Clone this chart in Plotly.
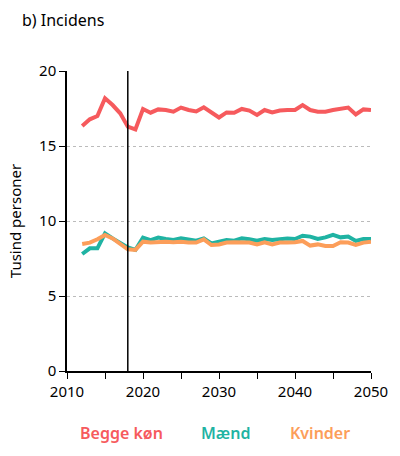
import plotly.graph_objects as go

years = list(range(2012, 2051))
begge = [16.33, 16.78, 17.0, 18.18, 17.73, 17.18, 16.29, 16.11, 17.47, 17.22,
         17.44, 17.4, 17.29, 17.56, 17.4, 17.3, 17.58, 17.2, 16.9, 17.24,
         17.22, 17.47, 17.36, 17.07, 17.4, 17.24, 17.36, 17.4, 17.4, 17.73,
         17.4, 17.29, 17.29, 17.4, 17.47, 17.56, 17.1, 17.44, 17.4]
maend = [7.8, 8.18, 8.18, 9.18, 8.84, 8.51, 8.24, 8.07, 8.89, 8.73,
         8.89, 8.8, 8.73, 8.84, 8.78, 8.69, 8.84, 8.51, 8.62, 8.73,
         8.69, 8.84, 8.78, 8.69, 8.8, 8.73, 8.78, 8.84, 8.8, 9.02,
         8.96, 8.8, 8.91, 9.07, 8.91, 8.96, 8.67, 8.8, 8.8]
kvinder = [8.47, 8.56, 8.78, 9.07, 8.84, 8.51, 8.11, 8.07, 8.62, 8.56,
           8.62, 8.62, 8.58, 8.62, 8.56, 8.56, 8.78, 8.4, 8.44, 8.56,
           8.58, 8.58, 8.56, 8.44, 8.58, 8.44, 8.56, 8.56, 8.58, 8.67,
           8.36, 8.44, 8.33, 8.33, 8.58, 8.56, 8.4, 8.56, 8.62]
series_names = ["Begge køn", "Mænd", "Kvinder"]
colors = ["#F65A5D", "#1FB3A3", "#FC9E5A"]
divider_year = 2018

FONT = "Noto Sans"
fig = go.Figure()

for name, vals, col in zip(series_names, [begge, maend, kvinder], colors):
    fig.add_trace(go.Scatter(x=years, y=vals, mode="lines", name=name,
                             line=dict(color=col, width=4), showlegend=False))

fig.add_shape(type="line", x0=divider_year, x1=divider_year, y0=0, y1=20,
              xref="x", yref="y", line=dict(color="black", width=1.5))

legend_x = [0.18, 0.523, 0.832]
for name, col, lx in zip(series_names, colors, legend_x):
    fig.add_annotation(text=name, x=lx, y=-0.207, xref="paper", yref="paper",
                       showarrow=False, font=dict(family=FONT, size=16, color=col, weight=600),
                       xanchor="center", yanchor="middle")

fig.update_layout(
    width=400, height=456,
    margin=dict(l=67, r=29, t=71, b=85),
    plot_bgcolor="white", paper_bgcolor="white",
    font=dict(family=FONT, size=15, color="black"),
    title=dict(text="b) Incidens", x=0.055, xanchor="left", y=0.955, yanchor="middle",
               font=dict(family=FONT, size=16, color="black")),
    xaxis=dict(range=[2010, 2050], tickvals=[2010, 2020, 2030, 2040, 2050],
               ticks="outside", ticklen=6, tickcolor="black", showgrid=False,
               showline=True, linecolor="black", linewidth=1.5, zeroline=False,
               minor=dict(dtick=5, tick0=2010, ticks="outside", ticklen=6, tickcolor="black", showgrid=False),
               tickfont=dict(family=FONT, size=15)),
    yaxis=dict(range=[0, 20], tickvals=[0, 5, 10, 15, 20],
               ticks="outside", ticklen=6, tickcolor="black",
               showline=True, linecolor="black", linewidth=1.5, zeroline=False,
               showgrid=True, gridcolor="#BBBBBB", griddash="dot", gridwidth=1,
               title=dict(text="Tusind personer", font=dict(family=FONT, size=15), standoff=14),
               tickfont=dict(family=FONT, size=15)),
)

fig.write_html("out.html")
